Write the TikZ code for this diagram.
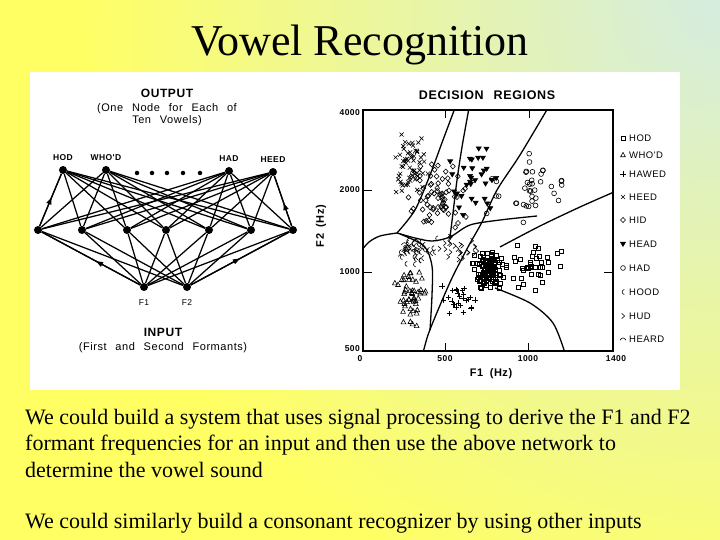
\documentclass[tikz,border=0pt]{standalone}
\usepackage{fontspec}
\setmainfont{Liberation Serif}
\newfontfamily\figfont[LetterSpace=5]{Liberation Sans}
\usetikzlibrary{positioning,arrows.meta,decorations.markings}

\definecolor{slideyellow}{RGB}{255,255,100}
\definecolor{slidemint}{RGB}{212,236,226}

\tikzset{
  neuron/.style={circle, fill=black, inner sep=0pt, minimum size=8pt},
  smalldot/.style={circle, fill=black, inner sep=0pt, minimum size=4.5pt},
  link/.style={line width=1.25pt},
  midarrow/.style={postaction={decorate},
    decoration={markings, mark=at position #1 with {\arrow{Triangle[length=7pt,width=5pt]}}}},
  figtitle/.style={font=\figfont\bfseries\fontsize{12}{14}\selectfont\spaceskip 0.7em\relax, inner sep=0pt},
  fignote/.style={font=\figfont\fontsize{11}{12}\selectfont\spaceskip 0.8em\relax, inner sep=0pt, align=center},
  vowel/.style={font=\figfont\bfseries\fontsize{8.5}{10}\selectfont, inner sep=0pt},
  axisnum/.style={font=\figfont\bfseries\fontsize{8.5}{10}\selectfont, inner sep=0pt},
  axislbl/.style={font=\figfont\bfseries\fontsize{11}{13}\selectfont\spaceskip 0.6em\relax, inner sep=0pt},
  legendtxt/.style={font=\figfont\fontsize{9.5}{11}\selectfont, inner sep=0pt, anchor=west},
  bodytext/.style={anchor=north west, align=left, font=\fontsize{22}{26.5}\selectfont, inner sep=0pt},
  boundary/.style={line width=1.3pt},
  glyph/.style={line width=0.6pt},
  % scatter glyphs, one per vowel
  hodmark/.pic={\draw[glyph] (-2,-2) rectangle (2,2);},
  whodmark/.pic={\draw[glyph] (0,-2.6) -- (2.4,1.8) -- (-2.4,1.8) -- cycle;},
  hawedmark/.pic={\draw[glyph] (-2.6,0) -- (2.6,0) (0,-2.6) -- (0,2.6);},
  heedmark/.pic={\draw[glyph] (-2,-2) -- (2,2) (-2,2) -- (2,-2);},
  hidmark/.pic={\draw[glyph] (0,-2.6) -- (2.4,0) -- (0,2.6) -- (-2.4,0) -- cycle;},
  headmark/.pic={\draw[glyph, fill=black] (-2.5,-1.8) -- (2.5,-1.8) -- (0,2.4) -- cycle;},
  hadmark/.pic={\draw[glyph] (0,0) circle (2.4);},
  hoodmark/.pic={\draw[glyph] (1.3,-2.6) .. controls (-1.6,-1.2) and (-1.6,1.2) .. (1.3,2.6);},
  hudmark/.pic={\draw[glyph] (-1.3,-2.6) -- (1.6,0) -- (-1.3,2.6);},
  heardmark/.pic={\draw[glyph] (-3,1.2) .. controls (-1,-1.8) and (1,-1.8) .. (3,1.2);}
}

\begin{document}
\begin{tikzpicture}[x=1pt, y=-1pt]
  % Fondo
  \useasboundingbox (0,0) rectangle (720,540);
  \fill[slideyellow] (0,0) rectangle (720,540);
  \begin{scope}
    \clip (0,0) rectangle (720,540);
    \foreach \r in {640,630,...,10} {
      \pgfmathtruncatemacro\p{100-\r/6.5}
      \fill[slidemint!\p!slideyellow] (720,0) circle (\r);
    }
  \end{scope}
  \fill[white] (30,72) rectangle (680,390);

  % Titulo
  \node[anchor=base, font=\fontsize{44}{50}\selectfont, inner sep=0pt] (title) at (360,56) {Vowel Recognition};

  % Red: capa de salida
  \node[figtitle] (outtitle) at (167,93) {OUTPUT};
  \node[fignote] (outnote) at (167,115) {(One Node for Each of\\Ten Vowels)};
  \node[neuron] (hod) at (63,170) {};
  \node[neuron] (whod) at (106,170) {};
  \node[neuron] (had) at (229,171) {};
  \node[neuron] (heed) at (273,172) {};
  \foreach \x [count=\i] in {137,152,167,183,200}
    \node[smalldot] (dot\i) at (\x,173) {};
  \node[vowel, above=5pt of hod] (hodlbl) {HOD};
  \node[vowel, above=5pt of whod] (whodlbl) {WHO'D};
  \node[vowel, above=5pt of had] (hadlbl) {HAD};
  \node[vowel, above=5pt of heed] (heedlbl) {HEED};

  % Capa oculta
  \foreach \x [count=\i] in {38,82,127,166,209,251,293}
    \node[neuron] (h\i) at (\x,230) {};

  % Capa de entrada
  \node[neuron] (f1) at (144,287) {};
  \node[neuron] (f2) at (187,287) {};
  \node[vowel, font=\figfont\fontsize{8.5}{10}\selectfont, below=8pt of f1] (f1lbl) {F1};
  \node[vowel, font=\figfont\fontsize{8.5}{10}\selectfont, below=8pt of f2] (f2lbl) {F2};
  \node[figtitle] (intitle) at (163,332) {INPUT};
  \node[fignote] (innote) at (163,348) {(First and Second Formants)};

  % Conexiones
  \foreach \i in {1,...,7} {
    \foreach \o in {hod,whod,had,heed}
      \draw[link] (h\i) -- (\o);
    \draw[link] (f1) -- (h\i);
    \draw[link] (f2) -- (h\i);
  }
  \draw[link, midarrow=0.55] (h1) -- (hod);
  \draw[link, midarrow=0.46] (h7) -- (heed);
  \draw[link, midarrow=0.45] (f1) -- (h1);
  \draw[link, midarrow=0.5] (f2) -- (h7);

  % Regiones de decision
  \node[figtitle, font=\figfont\bfseries\fontsize{12.5}{14}\selectfont\spaceskip 0.8em\relax] (dectitle) at (487,95) {DECISION REGIONS};
  \draw[line width=1.3pt] (363,110) rectangle (613,351);
  \draw[thick] (363,190) -- (372,190) (363,272) -- (372,272) (613,272) -- (604,272)
    (445,110) -- (445,118) (529,110) -- (529,118) (445,351) -- (445,343) (528,351) -- (528,343);
  \foreach \v/\y in {4000/113, 2000/190, 1000/272, 500/349}
    \node[axisnum, anchor=east] (ytick\v) at (360,\y) {\v};
  \foreach \v/\x in {0/360, 500/445, 1000/528, 1400/616}
    \node[axisnum] (xtick\v) at (\x,359) {\v};
  \node[axislbl] (xlabel) at (491,374) {F1 (Hz)};
  \node[axislbl, rotate=90] (ylabel) at (321,226) {F2 (Hz)};

  \begin{scope}
    \clip (363,110) rectangle (613,351);
    % Fronteras
    \draw[boundary] plot[smooth] coordinates {(455,108) (443,140) (430,175) (415,210) (397,233)};
    \draw[boundary] plot[smooth] coordinates {(397,233) (380,236) (369,242) (362,250)};
    \draw[boundary] plot[smooth] coordinates {(548,108) (520,155) (497,190) (482,222) (468,247) (452,278) (438,310) (428,335) (423,353)};
    \draw[boundary] plot[smooth] coordinates {(469,108) (462,147) (457,180) (453,213) (450,237)};
    \draw[boundary] plot[smooth] coordinates {(397,233) (415,238) (432,241) (450,237) (470,225) (500,220) (537,216)};
    \draw[boundary] plot[smooth] coordinates {(400,234) (424,246) (432,266) (432,295) (430,330)};
    \draw[boundary] plot[smooth] coordinates {(500,247) (540,226) (580,207) (614,192)};
    \draw[boundary] plot[smooth] coordinates {(495,288) (530,303) (553,323) (565,353)};
    % Datos
    \pgfmathsetseed{42}
    \foreach \mk/\cx/\cy/\rx/\ry/\n in {heedmark/413/165/13/25/60, hidmark/437/195/22/25/70,
      headmark/472/180/22/28/32, hadmark/528/190/35/28/38, hodmark/488/270/12/15/120,
      hodmark/528/262/25/22/40, whodmark/410/295/13/25/50, hawedmark/458/300/16/12/26,
      hoodmark/418/252/16/10/36, hudmark/463/248/20/10/26, heardmark/408/246/10/8/14} {
      \foreach \k in {1,...,\n} {
        \pgfmathsetmacro\px{\cx+\rx*(rand+rand)*0.7}
        \pgfmathsetmacro\py{\cy+\ry*(rand+rand)*0.7}
        \pic at (\px,\py) {\mk};
      }
    }
  \end{scope}

  % Leyenda
  \foreach \mk/\name/\y in {hodmark/HOD/138, whodmark/WHO'D/155, hawedmark/HAWED/174,
    heedmark/HEED/197, hidmark/HID/220, headmark/HEAD/244, hadmark/HAD/268,
    hoodmark/HOOD/292, hudmark/HUD/316, heardmark/HEARD/339} {
    \pic at (623,\y) {\mk};
    \node[legendtxt] (leg\mk) at (629,\y) {\name};
  }

  % Texto
  \node[bodytext] (para1) at (25,409)
    {We could build a system that uses signal processing to derive the F1 and F2\\
     formant frequencies for an input and then use the above network to\\
     determine the vowel sound};
  \node[bodytext] (para2) at (25,513)
    {We could similarly build a consonant recognizer by using other inputs};
\end{tikzpicture}
\end{document}
